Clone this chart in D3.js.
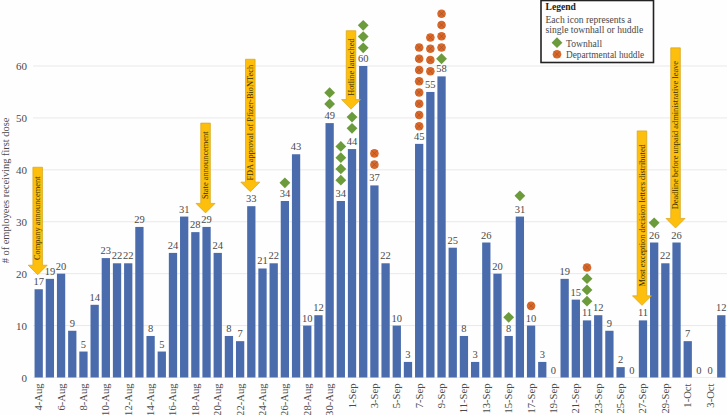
<!DOCTYPE html>
<html><head><meta charset="utf-8">
<script src="https://cdn.jsdelivr.net/npm/d3@7/dist/d3.min.js"></script>
<style>html,body{margin:0;padding:0;background:#fff;overflow:hidden}svg{display:block}text{font-family:"Liberation Serif",serif}</style>
</head><body><svg id="c" width="727" height="415"></svg>
<script>
const days=["4-Aug","5-Aug","6-Aug","7-Aug","8-Aug","9-Aug","10-Aug","11-Aug","12-Aug","13-Aug","14-Aug","15-Aug","16-Aug","17-Aug","18-Aug","19-Aug","20-Aug","21-Aug","22-Aug","23-Aug","24-Aug","25-Aug","26-Aug","27-Aug","28-Aug","29-Aug","30-Aug","31-Aug","1-Sep","2-Sep","3-Sep","4-Sep","5-Sep","6-Sep","7-Sep","8-Sep","9-Sep","10-Sep","11-Sep","12-Sep","13-Sep","14-Sep","15-Sep","16-Sep","17-Sep","18-Sep","19-Sep","20-Sep","21-Sep","22-Sep","23-Sep","24-Sep","25-Sep","26-Sep","27-Sep","28-Sep","29-Sep","30-Sep","1-Oct","2-Oct","3-Oct","4-Oct"];
const doses=[17,19,20,9,5,14,23,22,22,29,8,5,24,31,28,29,24,8,7,33,21,22,34,43,10,12,49,34,44,60,37,22,10,3,45,55,58,25,8,3,26,20,8,31,10,3,0,19,15,11,12,9,2,0,11,26,22,26,7,0,0,12];
const yTicks=[0,10,20,30,40,50,60];
const noteDays=["4-Aug","19-Aug","23-Aug","1-Sep","27-Sep","30-Sep"];
const noteTexts=["Company announcement","State announcement","FDA approval of Pfizer-BioNTech","Hotline launched","Most exception decision letters distributed","Deadline before unpaid administrative leave"];
const noteTops=[40.5,49,61.3,66.8,47.5,63.5];
const noteTips=[19.8,31.7,35.8,51.7,13.9,28.8];
const iconDays=["26-Aug","30-Aug","31-Aug","1-Sep","2-Sep","3-Sep","7-Sep","8-Sep","9-Sep","15-Sep","16-Sep","17-Sep","22-Sep","28-Sep"];
const iconStacks=["T","TT","TTTT","TT","TTT","HH","HHHHHHHH","HHHH","THHHH","T","T","H","TTTH","T"];
const iconLevels=[37.5,52.7,38,48,63.5,41,48.4,59,61.4,11.6,35,13.8,14.7,29.8];

const svg=d3.select("#c");
const x=d3.scaleBand().domain(days).range([33.1,726.9]).paddingInner(0.26).paddingOuter(0.13);
const y=d3.scaleLinear().domain([0,60]).range([377.5,66]);
const ink="#4a4a4a";
svg.append("rect").attr("width",727).attr("height",415).attr("fill","#fefefe");

svg.append("g").selectAll("line").data(yTicks).join("line")
 .attr("x1",33).attr("x2",727).attr("y1",d=>y(d)).attr("y2",d=>y(d))
 .attr("stroke",d=>d?"#e9e9e9":"#eeeeee").attr("stroke-width",1);

const ya=svg.append("g").attr("transform","translate(27,0)").call(d3.axisLeft(y).tickValues(yTicks).tickSize(0).tickPadding(0));
ya.select(".domain").remove();
ya.selectAll("text").attr("font-size",11).attr("fill",ink).attr("font-family","Liberation Serif");

const xa=svg.append("g").attr("transform","translate(0,377.5)")
 .call(d3.axisBottom(x).tickValues(days.filter((d,i)=>i%2===0)).tickSize(0));
xa.select(".domain").remove();
xa.selectAll("text").attr("font-size",10.6).attr("fill",ink).attr("font-family","Liberation Serif")
 .attr("text-anchor","end").attr("transform","rotate(-90)").attr("x",-6).attr("y",0).attr("dy","0.33em");

svg.append("text").attr("transform","translate(9,190.5) rotate(-90)").attr("text-anchor","middle")
 .attr("font-size",10.4).attr("fill",ink).text("# of employees receiving first dose");

const rows=days.map((d,i)=>({d,v:doses[i]}));
svg.append("g").selectAll("rect").data(rows).join("rect")
 .attr("x",r=>x(r.d)).attr("width",x.bandwidth()).attr("y",r=>y(r.v)).attr("height",r=>y(0)-y(r.v))
 .attr("fill","#4a6cad");
svg.append("g").selectAll("text").data(rows).join("text")
 .attr("x",r=>x(r.d)+x.bandwidth()/2).attr("y",r=>y(r.v)-4).attr("text-anchor","middle")
 .attr("font-size",10.5).attr("fill",ink).text(r=>r.v);

const notes=noteDays.map((d,i)=>({d,t:noteTexts[i],top:y(noteTops[i]),tip:y(noteTips[i]),cx:x(d)+x.bandwidth()/2-1}));
const gA=svg.append("g");
gA.selectAll("path").data(notes).join("path")
 .attr("d",n=>{const s=n.tip-9.5;return `M${n.cx-4.8},${n.top}H${n.cx+4.8}V${s}H${n.cx+9.5}L${n.cx},${n.tip}L${n.cx-9.5},${s}H${n.cx-4.8}Z`;})
 .attr("fill","#fdbf0b").attr("stroke","#d9a418").attr("stroke-width",0.7);
gA.selectAll("text").data(notes).join("text")
 .attr("transform",n=>`translate(${n.cx+2.8},${(n.top+n.tip-9.5)/2+2}) rotate(-90)`)
 .attr("text-anchor","middle")
 .attr("font-size",8.4).attr("fill","#3a3000").text(n=>n.t);

function drawIcon(g,type,cx,cy){
 if(type==="T"){
  const r=5.4;
  g.append("path").attr("d",`M${cx},${cy-r}L${cx+r},${cy}L${cx},${cy+r}L${cx-r},${cy}Z`).attr("fill","#6c9b3c");
 }else{
  const r=4.3,k=r*0.7;
  g.append("circle").attr("cx",cx).attr("cy",cy).attr("r",r).attr("fill","#d9682b");
  g.append("path").attr("d",`M${cx-k},${cy-k}L${cx+k},${cy+k}M${cx+k},${cy-k}L${cx-k},${cy+k}`).attr("stroke","#a9501f").attr("stroke-width",0.7);
 }
}
const gI=svg.append("g");
const gap=11.25;
iconDays.forEach((d,i)=>{
 const cx=x(d)+x.bandwidth()/2;
 iconStacks[i].split("").forEach((t,j)=>drawIcon(gI,t,cx,y(iconLevels[i])-j*gap));
});

const L=svg.append("g");
L.append("rect").attr("x",541).attr("y",0.5).attr("width",112.5).attr("height",62).attr("fill","#fefefe").attr("stroke","#222").attr("stroke-width",1.6);
L.append("text").attr("x",545.5).attr("y",10).attr("font-size",9.6).attr("font-weight","bold").attr("fill","#222").text("Legend");
L.append("text").attr("x",545.5).attr("y",22.5).attr("font-size",9.6).attr("fill",ink).text("Each icon represents a");
L.append("text").attr("x",545.5).attr("y",33).attr("font-size",9.6).attr("fill",ink).text("single townhall or huddle");
L.append("text").attr("x",566).attr("y",46.5).attr("font-size",9.6).attr("fill",ink).text("Townhall");
L.append("text").attr("x",566).attr("y",57.5).attr("font-size",9.3).attr("fill",ink).text("Departmental huddle");
drawIcon(L,"T",557,42.7);
drawIcon(L,"H",557,54.3);
</script></body></html>
